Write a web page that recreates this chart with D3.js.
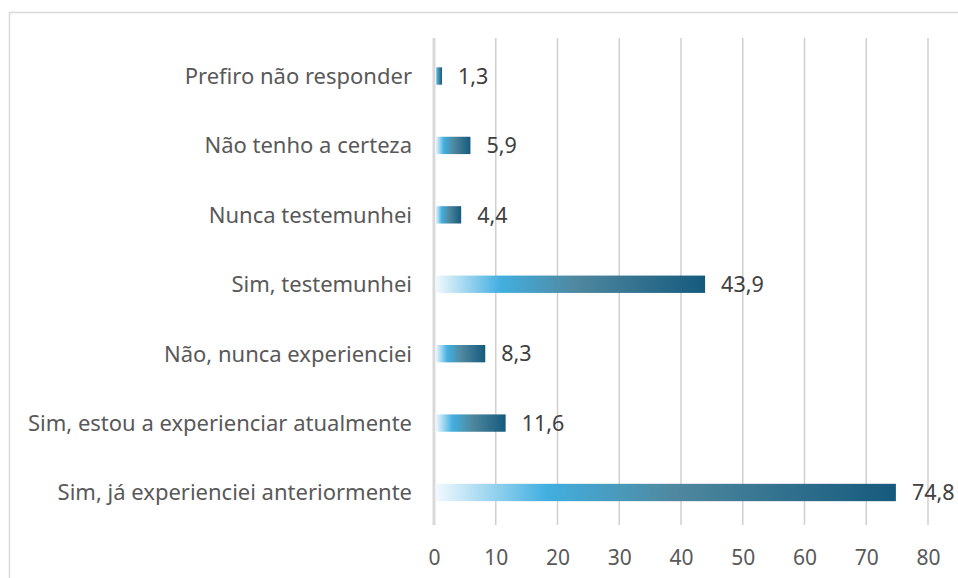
<!DOCTYPE html>
<html><head><meta charset="utf-8">
<script src="https://cdn.jsdelivr.net/npm/d3@7"></script>
<style>body{margin:0;background:#fff}svg{display:block}</style>
</head><body>
<script>
const categories = ["Prefiro não responder","Não tenho a certeza","Nunca testemunhei","Sim, testemunhei","Não, nunca experienciei","Sim, estou a experienciar atualmente","Sim, já experienciei anteriormente"];
const values = [1.3, 5.9, 4.4, 43.9, 8.3, 11.6, 74.8];
const valueLabels = ["1,3","5,9","4,4","43,9","8,3","11,6","74,8"];
const tickValues = [0,10,20,30,40,50,60,70,80];

const W=958,H=578;
const svg=d3.select("body").append("svg").attr("width",W).attr("height",H);
const defs=svg.append("defs");
const g=defs.append("linearGradient").attr("id","grad").attr("x1","0").attr("x2","1").attr("y1","0").attr("y2","0");
[[0,"#f2f9fd"],[0.24,"#42afe0"],[0.52,"#4f889f"],[1,"#155a7d"]].forEach(([o,c])=>g.append("stop").attr("offset",o).attr("stop-color",c));

// border
svg.append("path").attr("d","M9.5,578 V12.5 H958").attr("fill","none").attr("stroke","#d9d9d9").attr("stroke-width",1.5);

const x=d3.scaleLinear().domain([0,80]).range([434,928]);
const y=d3.scaleBand().domain(categories).range([41.3,527.2]).paddingInner(0.75).paddingOuter(0.375);

svg.append("g").selectAll("line").data(tickValues.slice(1)).join("line")
 .attr("x1",d=>x(d)).attr("x2",d=>x(d)).attr("y1",38).attr("y2",525)
 .attr("stroke","#d0d0d0").attr("stroke-width",1.5);
svg.append("line").attr("x1",x(0)).attr("x2",x(0)).attr("y1",38).attr("y2",525).attr("stroke","#d9d9d9").attr("stroke-width",3);

svg.append("g").selectAll("rect").data(values).join("rect")
 .attr("x",x(0)+1.5).attr("y",(d,i)=>y(categories[i])).attr("height",y.bandwidth())
 .attr("width",d=>x(d)-x(0)-1.5).attr("fill","url(#grad)");

const font="'Noto Sans', 'Open Sans', sans-serif";
svg.append("g").selectAll("text").data(categories).join("text")
 .attr("x",412).attr("y",d=>y(d)+y.bandwidth()/2).attr("dy","0.36em").attr("text-anchor","end")
 .attr("font-family",font).attr("font-size",22).attr("fill","#595959").text(d=>d);

svg.append("g").selectAll("text").data(values).join("text")
 .attr("x",d=>x(d)+16).attr("y",(d,i)=>y(categories[i])+y.bandwidth()/2).attr("dy","0.36em")
 .attr("font-family",font).attr("font-size",21.5).attr("fill","#404040").text((d,i)=>valueLabels[i]);

const ax=svg.append("g").attr("transform","translate(0,525)").call(d3.axisBottom(x).tickValues(tickValues).tickSize(0).tickPadding(25).tickFormat(d3.format("d")));
ax.select(".domain").remove();
ax.selectAll("text").attr("font-family",font).attr("font-size",21).attr("fill","#595959");
</script>
</body></html>
